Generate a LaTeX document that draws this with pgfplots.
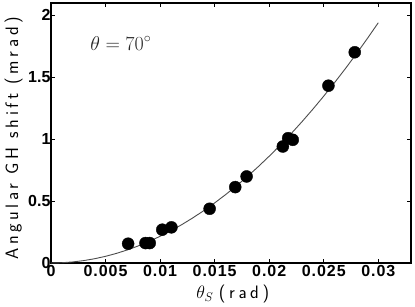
\RequirePackage{fix-cm}
\documentclass[border=0pt]{standalone}
\usepackage{fontspec}
\usepackage{pgfplots}
\pgfplotsset{compat=1.18}
\newfontfamily\tickfont{Liberation Sans}
\newfontfamily\xtickfont{Liberation Sans}[LetterSpace=6]
\newfontfamily\labfont{Latin Modern Sans}[LetterSpace=20]
\begin{document}
\begin{tikzpicture}
\begin{axis}[
  scale only axis,
  width=360pt, height=260pt,
  xmin=0, xmax=0.033, ymin=0, ymax=2.1,
  scaled x ticks=false, scaled y ticks=false,
  xtick={0,0.005,0.01,0.015,0.02,0.025,0.03},
  xticklabels={0,0.005,0.01,0.015,0.02,0.025,0.03},
  ytick={0,0.5,1,1.5,2},
  yticklabels={0,0.5,1,1.5,2},
  tick align=inside,
  major tick length=4pt,
  axis line style={line width=1.1pt},
  every tick/.style={line width=0.8pt, black},
  yticklabel style={font=\tickfont\bfseries\fontsize{16}{18}\selectfont, xshift=3pt},
  xticklabel style={font=\xtickfont\bfseries\fontsize{16}{18}\selectfont, yshift=1pt},
  xlabel={$\theta_S$ {\labfont(rad)}},
  ylabel={\labfont Angular GH shift (mrad)},
  label style={font=\fontsize{18}{20}\selectfont},
  xlabel style={at={(axis description cs:0.505,0)}, anchor=base, yshift=-36pt},
  ylabel style={at={(axis description cs:0,0.479)}, anchor=north, yshift=50pt},
  clip=false,
]
\coordinate (bl) at (rel axis cs:0,0);
\coordinate (tr) at (rel axis cs:1,1);
\addplot[color=black!70, line width=0.9pt, no marks] coordinates {
(0,0) (0.001,0.00216) (0.002,0.00862) (0.003,0.0194) (0.004,0.0345)
(0.005,0.0539) (0.006,0.0776) (0.007,0.1056) (0.008,0.1380) (0.009,0.1746)
(0.010,0.2156) (0.011,0.2609) (0.012,0.3105) (0.013,0.3644) (0.014,0.4226)
(0.015,0.4851) (0.016,0.5519) (0.017,0.6231) (0.018,0.6985) (0.019,0.7783)
(0.020,0.8624) (0.021,0.9508) (0.022,1.0435) (0.023,1.1405) (0.024,1.2419)
(0.025,1.3475) (0.026,1.4575) (0.027,1.5717) (0.028,1.6903) (0.029,1.8132)
(0.030,1.9404)
};
\addplot[only marks, mark=*, mark size=6pt, black] coordinates {
(0.00707,0.156) (0.00866,0.161) (0.00905,0.161) (0.0102,0.269) (0.01104,0.288)
(0.01454,0.438) (0.01689,0.613) (0.01793,0.699) (0.02125,0.941) (0.02174,1.008)
(0.02216,0.995) (0.02543,1.432) (0.02784,1.702)
};
\node[font=\fontsize{20}{22}\selectfont, text=black!85] at (axis cs:0.0064,1.775) {$\theta = 70^\circ$};
\end{axis}
\pgfresetboundingbox
\path[use as bounding box] ([shift={(-51pt,-44pt)}]bl) rectangle ([shift={(4pt,3pt)}]tr);
\end{tikzpicture}
\end{document}
